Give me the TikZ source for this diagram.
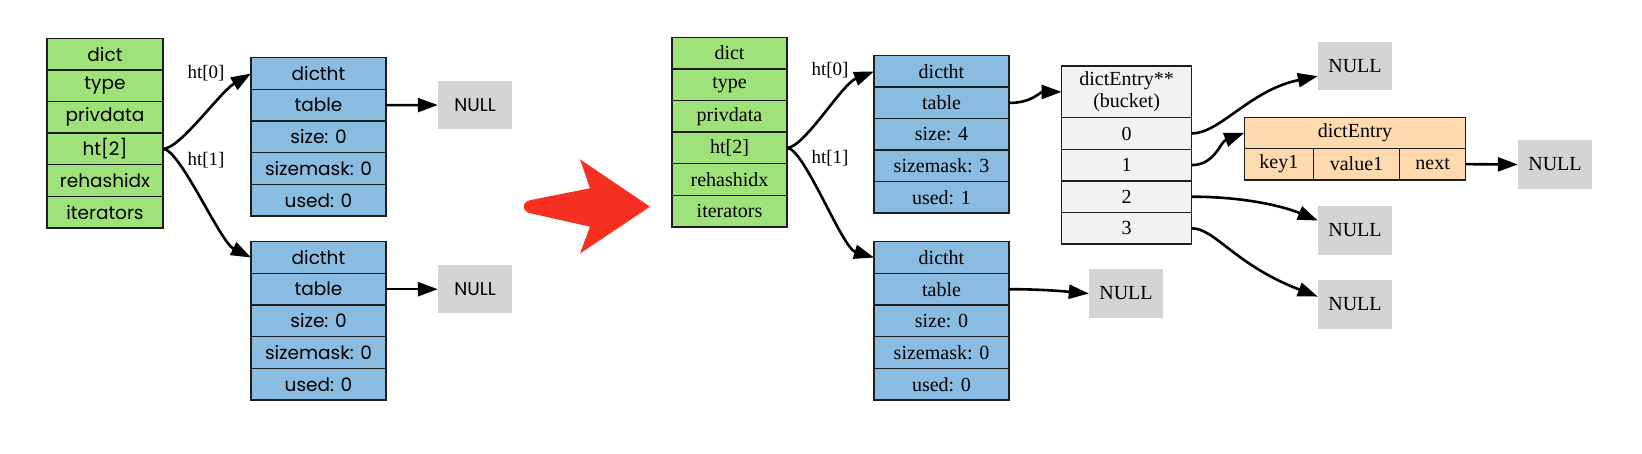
\documentclass[tikz,border=0pt]{standalone}
\usepackage{fontspec}
\setmainfont{Liberation Serif}
\newfontfamily\lsans{Poppins}
\usetikzlibrary{arrows.meta}
\definecolor{gfill}{RGB}{160,226,122}
\definecolor{bfill}{RGB}{138,188,226}
\definecolor{wfill}{RGB}{242,242,242}
\definecolor{ofill}{RGB}{255,218,175}
\definecolor{nfill}{RGB}{212,212,212}
\definecolor{redarrow}{RGB}{245,48,32}
\definecolor{edgecol}{RGB}{30,30,30}
\tikzset{
  cell/.style={draw=edgecol, line width=1.4pt, inner sep=0pt, outer sep=0pt, anchor=center, text=black},
  lcell/.style={cell, font=\lsans\fontsize{18.5}{20}\selectfont},
  rcell/.style={cell, font=\fontsize{20}{22}\selectfont},
  gcell/.style={fill=gfill, minimum height=31.6pt},
  bcell/.style={fill=bfill, minimum width=135pt, minimum height=31.7pt},
  wcell/.style={rcell, fill=wfill, minimum width=130pt, minimum height=31.6pt},
  ocell/.style={rcell, fill=ofill, minimum height=31.7pt},
  nullbox/.style={fill=nfill, inner sep=0pt, minimum width=74pt, minimum height=48.5pt},
  lnull/.style={nullbox, font=\lsans\fontsize{18.5}{20}\selectfont},
  rnull/.style={nullbox, font=\fontsize{20}{22}\selectfont},
  arr/.style={line width=2.6pt, -{Triangle[length=20pt,width=14pt]}},
  lab/.style={font=\fontsize{19}{21}\selectfont, inner sep=0pt}
}
\begin{document}
\begin{tikzpicture}[x=1pt,y=-1pt]
\useasboundingbox (0,0) rectangle (1642,454);
% ---------- left: dict
\node[lcell,gcell,minimum width=116pt] (ld1) at (105,54.1) {dict};
\node[lcell,gcell,minimum width=116pt] (ld2) at (105,85.7) {type};
\node[lcell,gcell,minimum width=116pt] (ld3) at (105,117.3) {privdata};
\node[lcell,gcell,minimum width=116pt] (ld4) at (105,148.9) {ht[2]};
\node[lcell,gcell,minimum width=116pt] (ld5) at (105,180.5) {rehashidx};
\node[lcell,gcell,minimum width=116pt] (ld6) at (105,212.1) {iterators};
% left dictht A
\node[lcell,bcell] (la1) at (318.5,73.5) {dictht};
\node[lcell,bcell] (la2) at (318.5,105.2) {table};
\node[lcell,bcell] (la3) at (318.5,136.9) {size: 0};
\node[lcell,bcell] (la4) at (318.5,168.6) {sizemask: 0};
\node[lcell,bcell] (la5) at (318.5,200.3) {used: 0};
% left dictht B
\node[lcell,bcell] (lb1) at (318.5,257.5) {dictht};
\node[lcell,bcell] (lb2) at (318.5,289.2) {table};
\node[lcell,bcell] (lb3) at (318.5,320.9) {size: 0};
\node[lcell,bcell] (lb4) at (318.5,352.6) {sizemask: 0};
\node[lcell,bcell] (lb5) at (318.5,384.3) {used: 0};
% left NULLs
\node[lnull] (lna) at (475,105) {NULL};
\node[lnull] (lnb) at (475,289.2) {NULL};
% left edges
\draw[arr] (ld4.east) .. controls (180,148.9) and (220,92) .. (la1.west);
\draw[arr] (ld4.east) .. controls (180,148.9) and (220,242) .. (lb1.west);
\node[lab] (lh0) at (206,73) {ht[0]};
\node[lab] (lh1) at (206,160.5) {ht[1]};
\draw[arr] (la2.east) -- (lna.west);
\draw[arr] (lb2.east) -- (lnb.west);
% ---------- red arrow
\fill[redarrow] (590,188.3) -- (580,159.3) -- (650,206.7) -- (580,253.5) -- (590,226.7) -- (532,213.6)
  .. controls (521,212.5) and (521,200.9) .. (532,199.8) -- cycle;
% ---------- right: dict
\node[rcell,gcell,minimum width=115pt] (rd1) at (729.5,53.1) {dict};
\node[rcell,gcell,minimum width=115pt] (rd2) at (729.5,84.7) {type};
\node[rcell,gcell,minimum width=115pt] (rd3) at (729.5,116.3) {privdata};
\node[rcell,gcell,minimum width=115pt] (rd4) at (729.5,147.9) {ht[2]};
\node[rcell,gcell,minimum width=115pt] (rd5) at (729.5,179.5) {rehashidx};
\node[rcell,gcell,minimum width=115pt] (rd6) at (729.5,211.1) {iterators};
% right dictht C
\node[rcell,bcell,minimum height=31.5pt] (rc1) at (941.5,71.45) {dictht};
\node[rcell,bcell,minimum height=31.5pt] (rc2) at (941.5,102.95) {table};
\node[rcell,bcell,minimum height=31.5pt] (rc3) at (941.5,134.45) {size: 4};
\node[rcell,bcell,minimum height=31.5pt] (rc4) at (941.5,165.95) {sizemask: 3};
\node[rcell,bcell,minimum height=31.5pt] (rc5) at (941.5,197.45) {used: 1};
% right dictht D
\node[rcell,bcell] (re1) at (941.5,257.5) {dictht};
\node[rcell,bcell] (re2) at (941.5,289.2) {table};
\node[rcell,bcell] (re3) at (941.5,320.9) {size: 0};
\node[rcell,bcell] (re4) at (941.5,352.6) {sizemask: 0};
\node[rcell,bcell] (re5) at (941.5,384.3) {used: 0};
% bucket
\node[wcell,minimum height=51.7pt,align=center,font=\fontsize{20}{22}\selectfont] (bk) at (1126.6,91.85) {dictEntry**\\(bucket)};
\node[wcell] (b0) at (1126.6,133.5) {0};
\node[wcell] (b1) at (1126.6,165.1) {1};
\node[wcell] (b2) at (1126.6,196.7) {2};
\node[wcell] (b3) at (1126.6,228.3) {3};
% dictEntry
\node[ocell,minimum width=221.4pt,minimum height=31pt] (de) at (1355,132.8) {dictEntry};
\node[ocell,minimum width=69pt] (dk) at (1278.8,164.15) {key1};
\node[ocell,minimum width=86.4pt] (dv) at (1356.5,164.15) {value1};
\node[ocell,minimum width=66pt] (dn) at (1432.7,164.15) {next};
% right NULLs
\node[rnull] (n0) at (1355,66.2) {NULL};
\node[rnull] (nn) at (1555,164.5) {NULL};
\node[rnull] (n2) at (1355,230.5) {NULL};
\node[rnull] (n3) at (1355,304.5) {NULL};
\node[rnull] (nd) at (1126,293.5) {NULL};
% right edges
\draw[arr] (rd4.east) .. controls (804,147.9) and (842,84) .. (rc1.west);
\draw[arr] (rd4.east) .. controls (804,147.9) and (842,248) .. (re1.west);
\node[lab] (rh0) at (830,70.5) {ht[0]};
\node[lab] (rh1) at (830,158.5) {ht[1]};
\draw[arr] (rc2.east) .. controls (1032,102.95) and (1040,92) .. (bk.west);
\draw[arr] (re2.east) .. controls (1040,289.2) and (1060,291) .. (nd.west);
\draw[arr] (b0.east) .. controls (1220,133.5) and (1250,90) .. (n0.195);
\draw[arr] (b1.east) .. controls (1215,165.1) and (1220,142) .. (de.west);
\draw[arr] (b2.east) .. controls (1240,196.7) and (1280,205) .. (n2.165);
\draw[arr] (b3.east) .. controls (1215,228.3) and (1235,265) .. (n3.168);
\draw[arr] (dn.east) -- (nn.west);
\end{tikzpicture}
\end{document}
